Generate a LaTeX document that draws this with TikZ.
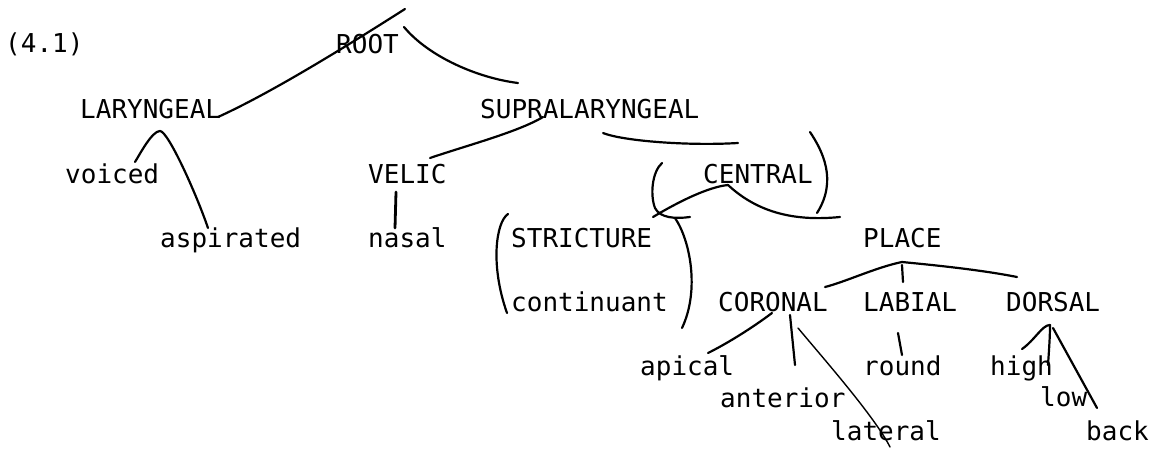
\documentclass[tikz,border=0pt]{standalone}
\usepackage{fontspec}
\newfontfamily\dmono{DejaVu Sans Mono}
\usetikzlibrary{calc}
\begin{document}
\begin{tikzpicture}[x=1pt,y=-1pt,
  lbl/.style={inner sep=0pt, anchor=base west, font=\dmono\fontsize{26}{30}\selectfont},
  ln/.style={line width=2.2pt, line cap=round, line join=round},
  thinln/.style={line width=1.4pt, line cap=round}]
\useasboundingbox (0,0) rectangle (1151,448);
% labels
\node[lbl] (n41) at (5,52) {(4.1)};
\node[lbl] (root) at (336,53) {ROOT};
\node[lbl] (lar) at (80,118) {LARYNGEAL};
\node[lbl] (supra) at (480,118) {SUPRALARYNGEAL};
\node[lbl] (voiced) at (65,183) {voiced};
\node[lbl] (velic) at (368,183) {VELIC};
\node[lbl] (central) at (703,183) {CENTRAL};
\node[lbl] (asp) at (160,247) {aspirated};
\node[lbl] (nasal) at (368,247) {nasal};
\node[lbl] (strict) at (511,247) {STRICTURE};
\node[lbl] (place) at (863,247) {PLACE};
\node[lbl] (cont) at (511,311) {continuant};
\node[lbl] (coronal) at (718,311) {CORONAL};
\node[lbl] (labial) at (863,311) {LABIAL};
\node[lbl] (dorsal) at (1006,311) {DORSAL};
\node[lbl] (apical) at (640,375) {apical};
\node[lbl] (round) at (863,375) {round};
\node[lbl] (high) at (990,375) {high};
\node[lbl] (anterior) at (720,407) {anterior};
\node[lbl] (low) at (1040,406) {low};
\node[lbl] (lateral) at (831,440) {lateral};
\node[lbl] (back) at (1086,440) {back};
% connectors
\draw[ln] ($(root.base west)+(69,-44)$) .. controls +(-55,35) and +(55,-25) .. ($(lar.base west)+(138,-1)$);
\draw[ln] ($(root.base west)+(68,-26)$) .. controls +(25,30) and +(-40,-5) .. ($(supra.base west)+(38,-35)$);
\draw[ln] ($(voiced.base west)+(70,-21)$) .. controls +(5,-8) and +(-8,0) .. ($(lar.base west)+(80,13)$) .. controls +(8,0) and +(-12,-35) .. ($(asp.base west)+(48,-19)$);
\draw[ln] ($(supra.base west)+(63,-1)$) .. controls +(-25,15) and +(35,-12) .. ($(velic.base west)+(62,-25)$);
\draw[ln, line width=2.8pt] ($(velic.base west)+(28,9)$) -- ($(nasal.base west)+(27,-19)$);
\draw[ln] ($(supra.base west)+(123,15)$) .. controls +(20,8) and +(-50,3) .. ($(central.base west)+(35,-40)$);
% bracket round CENTRAL
\draw[ln] ($(central.base west)+(-41,-20)$) .. controls +(-10,9) and +(-5,-13) .. ($(central.base west)+(-48,25)$) .. controls +(5,10) and +(-15,2) .. ($(central.base west)+(-13,34)$);
\draw[ln] ($(central.base west)+(107,-51)$) .. controls +(12,18) and +(21,-33) .. ($(central.base west)+(114,30)$);
\draw[ln] ($(central.base west)+(25,2)$) .. controls +(-20,2) and +(25,-15) .. ($(strict.base west)+(142,-30)$);
\draw[ln] ($(central.base west)+(25,2)$) .. controls +(27,25) and +(-50,5) .. ($(place.base west)+(-23,-30)$);
% bracket round STRICTURE
\draw[ln] ($(strict.base west)+(-3,-33)$) .. controls +(-12,8) and +(-17,-48) .. ($(cont.base west)+(-4,2)$);
\draw[ln] ($(strict.base west)+(164,-29)$) .. controls +(15,22) and +(18,-38) .. ($(cont.base west)+(171,17)$);
% PLACE
\coordinate (pk) at ($(place.base west)+(39,15)$);
\draw[ln] (pk) .. controls +(-25,5) and +(20,-5) .. ($(coronal.base west)+(107,-24)$);
\draw[ln] (pk) .. controls +(20,2) and +(-40,-8) .. ($(dorsal.base west)+(11,-34)$);
\draw[ln] ($(pk)+(0,3)$) -- ($(labial.base west)+(40,-29)$);
% CORONAL
\draw[ln] ($(coronal.base west)+(54,2)$) .. controls +(-20,15) and +(20,-10) .. ($(apical.base west)+(68,-22)$);
\draw[ln] ($(coronal.base west)+(72,4)$) -- ($(anterior.base west)+(75,-42)$);
\draw[thinln] ($(coronal.base west)+(80,17)$) .. controls +(25,30) and +(-15,-30) .. ($(lateral.base west)+(59,7)$);
% LABIAL
\draw[ln] ($(labial.base west)+(35,22)$) -- ($(round.base west)+(39,-20)$);
% DORSAL
\coordinate (dk) at ($(dorsal.base west)+(44,14)$);
\draw[ln] ($(high.base west)+(32,-26)$) .. controls +(13,-9) and +(-8,0) .. (dk);
\draw[ln] (dk) .. controls +(0,12) and +(1,-15) .. ($(low.base west)+(8,-41)$);
\draw[ln] ($(dk)+(3,3)$) -- ($(back.base west)+(11,-32)$);
\end{tikzpicture}
\end{document}
